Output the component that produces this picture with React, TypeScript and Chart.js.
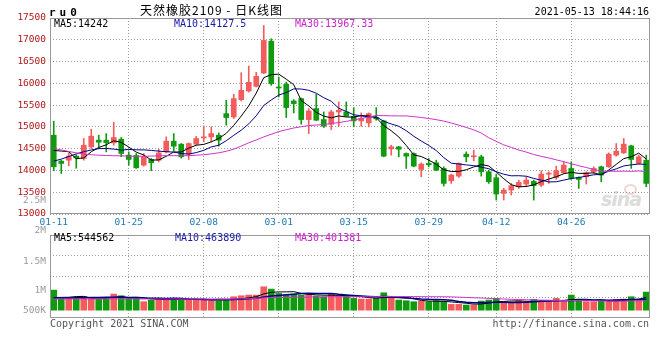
import React, { useEffect, useRef } from 'react';
import { Chart, registerables } from 'chart.js';

Chart.register(...registerables);

// ---------------- data ----------------
const DATES = [
  '01-11','01-12','01-13','01-14','01-15','01-18','01-19','01-20','01-21','01-22',
  '01-25','01-26','01-27','01-28','01-29','02-01','02-02','02-03','02-04','02-05',
  '02-08','02-09','02-10','02-18','02-19','02-22','02-23','02-24','02-25','02-26',
  '03-01','03-02','03-03','03-04','03-05','03-08','03-09','03-10','03-11','03-12',
  '03-15','03-16','03-17','03-18','03-19','03-22','03-23','03-24','03-25','03-26',
  '03-29','03-30','03-31','04-01','04-02','04-06','04-07','04-08','04-09',
  '04-12','04-13','04-14','04-15','04-16','04-19','04-20','04-21','04-22','04-23',
  '04-26','04-27','04-28','04-29','04-30','05-06','05-07','05-10','05-11','05-12','05-13',
];
const DATE_TICKS = ['01-11', '01-25', '02-08', '03-01', '03-15', '03-29', '04-12', '04-26'];

const OPEN = [
  14809,14214,14236,14330,14275,14542,14695,14695,14633,14717,
  14351,14343,14122,14252,14236,14427,14672,14603,14374,14603,
  14748,14771,14809,15305,15229,15626,15824,15931,16237,16969,
  15916,15977,15595,15649,15168,15420,15168,15061,15343,15343,
  15244,15137,15092,15214,15137,14496,14542,14389,14389,14023,
  14160,14176,14046,13763,13870,14374,14313,14313,13969,
  13832,13473,13549,13626,13687,13748,13664,13916,13840,13946,
  14046,13840,13855,13969,14084,14084,14351,14404,14565,14160,14236,
];
const HIGH = [
  15130,14236,14404,14360,14733,14946,14809,14847,15107,14756,
  14427,14389,14389,14275,14488,14771,14847,14618,14633,14786,
  15023,15000,14862,15611,15748,16244,16397,16252,17328,17023,
  16145,16030,15626,15660,15420,15748,15343,15382,15572,15572,
  15443,15321,15321,15443,15153,14580,14550,14404,14404,14176,
  14275,14236,14084,13916,14176,14427,14465,14351,14007,
  13916,13588,13702,13778,13855,13778,13992,13969,14099,14198,
  14198,13855,13969,14084,14099,14404,14618,14733,14580,14351,14351,
];
const LOW = [
  13992,13931,14107,14050,14236,14504,14504,14427,14580,14313,
  14122,14046,14099,13992,14198,14404,14450,14282,14252,14580,
  14656,14656,14557,15038,15191,15595,15800,15916,16221,15954,
  15687,15214,15321,15061,14847,15145,14985,14939,15015,15244,
  15000,15015,15000,15153,14313,14351,14313,14046,14084,13855,
  14084,13992,13641,13702,13840,14198,14221,13870,13702,
  13320,13320,13435,13588,13626,13320,13626,13702,13794,13931,
  13794,13588,13687,13931,13740,14069,14328,14389,14046,14145,13626,
];
const CLOSE = [
  14084,14160,14328,14290,14580,14786,14649,14640,14756,14389,
  14252,14061,14313,14176,14404,14672,14557,14313,14618,14733,
  14771,14847,14695,15214,15649,15840,16023,16160,16985,15992,
  15893,15443,15534,15168,15366,15153,15015,15343,15382,15244,
  15137,15191,15305,15183,14328,14542,14488,14328,14099,14145,
  14130,14007,13702,13893,14160,14313,14336,13969,13740,
  13458,13549,13649,13725,13778,13649,13916,13939,13992,14122,
  13817,13794,13946,14046,13893,14374,14443,14603,14252,14313,13702,
];
const MA5 = [
  14460,14445,14430,14270,14288,14429,14527,14589,14682,14644,
  14537,14420,14354,14238,14241,14325,14424,14424,14513,14579,
  14598,14656,14733,14852,15035,15249,15484,15777,16131,16200,
  16211,16095,15969,15606,15481,15333,15247,15209,15252,15227,
  15224,15259,15252,15212,15029,14910,14769,14574,14357,14320,
  14238,14142,14017,13975,13978,14015,14081,14134,14104,13963,
  13810,13673,13624,13632,13670,13743,13801,13855,13924,13957,
  13933,13934,13945,13899,14011,14140,14272,14313,14397,14263,
];
const MA10 = [
  14214,14260,14320,14380,14430,14470,14500,14505,14490,14466,
  14483,14473,14472,14460,14443,14431,14422,14389,14376,14410,
  14462,14540,14579,14682,14807,14924,15070,15255,15492,15618,
  15730,15789,15873,15869,15840,15772,15671,15589,15429,15354,
  15279,15253,15230,15232,15128,15067,15014,14913,14785,14675,
  14574,14456,14295,14166,14149,14127,14111,14075,14040,13971,
  13913,13877,13879,13868,13817,13777,13737,13740,13778,13814,
  13838,13868,13900,13911,13984,14037,14103,14129,14148,14137,
];
const MA30 = [
  14504,14470,14435,14405,14375,14360,14350,14343,14338,14335,
  14330,14325,14325,14330,14335,14340,14340,14335,14340,14350,
  14360,14380,14405,14440,14490,14560,14634,14700,14770,14831,
  14892,14934,14975,15004,15030,15042,15054,15078,15099,15127,
  15157,15194,15227,15261,15258,15254,15252,15252,15235,15215,
  15194,15166,15133,15089,15039,14988,14932,14859,14751,14667,
  14588,14529,14468,14422,14365,14323,14288,14243,14201,14153,
  14108,14067,14025,13982,13983,13980,13984,13981,13988,13974,
];

// volume in thousands of lots
const VOLUME = [
  843,503,503,503,571,503,476,476,680,612,
  503,503,367,435,503,476,503,435,435,476,
  476,408,408,408,571,612,639,639,979,884,
  707,639,680,639,680,598,571,680,612,612,
  503,476,476,503,734,503,435,408,367,394,
  367,408,367,258,258,231,231,394,435,503,
  326,326,408,367,462,408,367,503,367,639,
  462,367,367,394,408,462,476,571,435,762,
];
const VOL_MA5 = [
  540,545,550,580,585,517,511,506,541,549,
  549,555,533,484,462,457,457,470,470,465,
  465,446,441,435,454,481,528,574,688,751,
  770,770,778,710,669,647,634,634,628,615,
  596,577,536,514,538,538,530,517,489,421,
  394,389,381,359,332,304,269,274,310,359,
  378,397,400,386,378,394,402,421,421,457,
  468,468,440,446,400,400,421,462,470,545,
];
const VOL_MA10 = [
  515,518,522,526,530,535,540,546,552,567,
  533,533,519,513,506,503,506,502,477,464,
  461,451,456,453,460,473,487,507,562,602,
  626,649,676,699,710,708,702,706,669,642,
  621,605,585,571,577,567,553,526,502,480,
  466,460,449,424,377,349,329,328,334,345,
  341,333,337,348,368,386,400,411,404,417,
  431,435,431,434,428,434,445,451,458,464,
];
const VOL_MA30 = [
  480,480,480,480,480,480,480,480,480,480,
  480,480,479,478,478,478,478,478,478,478,
  478,476,474,472,476,484,494,504,524,544,
  540,544,550,555,558,562,565,572,569,569,
  569,568,572,574,582,583,581,580,577,575,
  571,571,570,565,554,542,528,520,502,489,
  476,466,457,448,440,434,427,421,413,414,
  413,409,406,402,391,390,391,396,399,401,
];

const PRICE_MIN = 13000;
const PRICE_MAX = 17500;
const PRICE_STEP = 500;
const VOL_MIN = -300;
const VOL_MAX = 3100;
const VOL_LABELS = ['2.5M', '2M', '1.5M', '1M', '500K'];
const VOL_LABEL_AT = [4500, 3270, 2030, 820, 0];

const HEAD_MA = ['MA5:14242', 'MA10:14127.5', 'MA30:13967.33'];
const VOL_HEAD_MA = ['MA5:544562', 'MA10:463890', 'MA30:401381'];

// ---------------- styles ----------------
const UP = '#f25c5c';
const DOWN = '#109a10';
const C_MA5 = '#000000';
const C_MA10 = '#000088';
const C_MA30 = '#cc33cc';
const GRID = '#9c9c9c';
const MONO = '"DejaVu Sans Mono", "Liberation Mono", monospace';

const candleColors = CLOSE.map((c, i) => (c >= OPEN[i] ? UP : DOWN));
const isTickDate = (i: number) => DATE_TICKS.includes(DATES[i]);
const vGridColor = (ctx: any) => (ctx.index > 0 && isTickDate(ctx.index) ? GRID : 'rgba(0,0,0,0)');

const framePlugin = {
  id: 'frame',
  afterDraw(chart: any) {
    const { ctx, chartArea: a } = chart;
    ctx.save();
    ctx.strokeStyle = '#999999';
    ctx.lineWidth = 1;
    ctx.strokeRect(Math.round(a.left) + 0.5, Math.round(a.top) + 0.5, Math.round(a.width) - 1, Math.round(a.height) - 1);
    ctx.restore();
  },
};

const lineDs = (data: number[], color: string, width = 1) => ({
  type: 'line' as const,
  data,
  borderColor: color,
  borderWidth: width,
  pointRadius: 0,
  tension: 0,
  order: 0,
});

export default function App() {
  const priceRef = useRef<HTMLCanvasElement>(null);
  const volRef = useRef<HTMLCanvasElement>(null);

  useEffect(() => {
    const priceChart = new Chart(priceRef.current as HTMLCanvasElement, {
      type: 'bar',
      data: {
        labels: DATES,
        datasets: [
          lineDs(MA30, C_MA30),
          lineDs(MA10, C_MA10),
          lineDs(MA5, C_MA5),
          {
            type: 'bar',
            data: LOW.map((l, i) => [l, HIGH[i]]),
            backgroundColor: candleColors,
            barThickness: 1,
            grouped: false,
            order: 2,
          } as any,
          {
            type: 'bar',
            data: OPEN.map((o, i) => [o, CLOSE[i]]),
            backgroundColor: candleColors,
            barThickness: 5,
            minBarLength: 1,
            grouped: false,
            order: 1,
          } as any,
        ],
      },
      options: {
        animation: false,
        responsive: false,
        events: [],
        layout: { padding: { left: 0, right: 10, top: 18, bottom: 0 } },
        plugins: { legend: { display: false }, tooltip: { enabled: false } },
        scales: {
          x: {
            type: 'category',
            offset: true,
            grid: { offset: false, color: vGridColor, drawTicks: false, lineWidth: 1 },
            border: { display: false, dash: [1, 2] },
            ticks: {
              autoSkip: false,
              maxRotation: 0,
              padding: 3,
              color: '#1f78b4',
              font: { family: MONO, size: 9.5 },
              callback: (_v: any, i: number) => (isTickDate(i) ? DATES[i] : ''),
            },
            afterFit: (s: any) => {
              s.height = 18;
            },
          },
          y: {
            min: PRICE_MIN,
            max: PRICE_MAX,
            grid: { color: GRID, drawTicks: false, lineWidth: 1 },
            border: { display: false, dash: [1, 2] },
            ticks: {
              stepSize: PRICE_STEP,
              autoSkip: false,
              padding: 4,
              color: '#b01818',
              font: { family: MONO, size: 9.5 },
              callback: (v: any) => String(v),
            },
            afterFit: (s: any) => {
              s.width = 50;
            },
          },
        },
      } as any,
      plugins: [framePlugin],
    });

    const volChart = new Chart(volRef.current as HTMLCanvasElement, {
      type: 'bar',
      data: {
        labels: DATES,
        datasets: [
          lineDs(VOL_MA30, C_MA30),
          lineDs(VOL_MA10, C_MA10, 1.5),
          lineDs(VOL_MA5, C_MA5),
          {
            type: 'bar',
            data: VOLUME,
            backgroundColor: candleColors,
            barThickness: 6,
            order: 1,
          } as any,
        ],
      },
      options: {
        animation: false,
        responsive: false,
        events: [],
        layout: { padding: { left: 0, right: 10, top: 45, bottom: 12 } },
        plugins: { legend: { display: false }, tooltip: { enabled: false } },
        scales: {
          x: {
            type: 'category',
            offset: true,
            grid: { offset: false, color: vGridColor, drawTicks: false, lineWidth: 1 },
            border: { display: false, dash: [1, 2] },
            ticks: { display: false },
            afterFit: (s: any) => {
              s.height = 0;
            },
          },
          y: {
            min: VOL_MIN,
            max: VOL_MAX,
            afterBuildTicks: (s: any) => {
              const grid = [1, 2, 3].map((k) => VOL_MIN + ((VOL_MAX - VOL_MIN) * k) / 4);
              s.ticks = [...grid.map((v) => ({ value: v })), ...VOL_LABEL_AT.map((v) => ({ value: v }))];
            },
            grid: {
              drawTicks: false,
              lineWidth: 1,
              color: (ctx: any) => (ctx.index < 3 ? GRID : 'rgba(0,0,0,0)'),
            },
            border: { display: false, dash: [1, 2] },
            ticks: {
              autoSkip: false,
              padding: 4,
              color: '#9a9a9a',
              font: { family: MONO, size: 9.5 },
              callback: (_v: any, i: number) => (i < 3 ? '' : VOL_LABELS[i - 3]),
            },
            afterFit: (s: any) => {
              s.width = 50;
            },
          },
        },
      } as any,
      plugins: [framePlugin],
    });

    return () => {
      priceChart.destroy();
      volChart.destroy();
    };
  }, []);

  const txt = (extra: React.CSSProperties): React.CSSProperties => ({
    position: 'absolute',
    fontFamily: MONO,
    fontSize: 10,
    lineHeight: '10px',
    whiteSpace: 'nowrap',
    ...extra,
  });

  return (
    <div style={{ position: 'fixed', left: 0, top: 0, width: 660, height: 360, background: '#ffffff', overflow: 'hidden' }}>
      {/* watermark */}
      <div
        style={{
          position: 'absolute',
          left: 601,
          top: 190,
          fontFamily: '"DejaVu Sans", sans-serif',
          fontStyle: 'italic',
          fontWeight: 'bold',
          fontSize: 19,
          lineHeight: '19px',
          color: '#dcdcdc',
          letterSpacing: -1,
        }}
      >
        sina
      </div>
      <div
        style={{
          position: 'absolute',
          left: 624,
          top: 184,
          width: 9,
          height: 7,
          borderRadius: '50%',
          border: '2px solid #f0d6d6',
        }}
      />
      <canvas
        ref={priceRef}
        width={660}
        height={232}
        style={{ position: 'absolute', left: 0, top: 0, width: 660, height: 232 }}
      />
      <canvas
        ref={volRef}
        width={660}
        height={140}
        style={{ position: 'absolute', left: 0, top: 190, width: 660, height: 140 }}
      />

      {/* header */}
      <div style={txt({ left: 49, top: 7, fontSize: 11, lineHeight: '11px', fontWeight: 'bold', letterSpacing: '4px', color: '#000' })}>
        ru0
      </div>
      <div
        style={txt({
          left: 140,
          top: 3,
          fontFamily: '"Noto Sans CJK SC", sans-serif',
          fontSize: 12,
          lineHeight: '13px',
          letterSpacing: '1px',
          color: '#000',
        })}
      >
        天然橡胶2109 - 日K线图
      </div>
      <div style={txt({ right: 11, top: 7, color: '#000' })}>2021-05-13 18:44:16</div>

      {/* MA labels price */}
      <div style={txt({ left: 54, top: 19, color: C_MA5 })}>{HEAD_MA[0]}</div>
      <div style={txt({ left: 174, top: 19, color: '#1818a8' })}>{HEAD_MA[1]}</div>
      <div style={txt({ left: 295, top: 19, color: '#cc22cc' })}>{HEAD_MA[2]}</div>

      {/* MA labels volume */}
      <div style={txt({ left: 54, top: 233, color: C_MA5 })}>{VOL_HEAD_MA[0]}</div>
      <div style={txt({ left: 175, top: 233, color: '#1818a8' })}>{VOL_HEAD_MA[1]}</div>
      <div style={txt({ left: 295, top: 233, color: '#cc22cc' })}>{VOL_HEAD_MA[2]}</div>

      {/* footer */}
      <div style={txt({ left: 50, top: 319, color: '#555' })}>Copyright 2021 SINA.COM</div>
      <div style={txt({ right: 11, top: 319, color: '#555' })}>http://finance.sina.com.cn</div>
    </div>
  );
}
